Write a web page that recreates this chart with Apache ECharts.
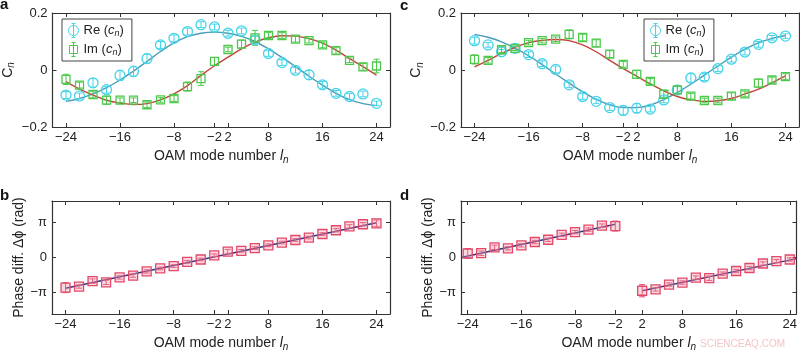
<!DOCTYPE html>
<html>
<head>
<meta charset="utf-8">
<script src="https://cdn.jsdelivr.net/npm/echarts@6/dist/echarts.min.js"></script>
<style>
  html, body { margin: 0; padding: 0; background: #fff; }
  #chart { width: 800px; height: 353px; }
</style>
</head>
<body>
<div id="chart"></div>
<script>
// ================* OAM modes (l = 0 is not used) *
const modes = [-24, -22, -20, -18, -16, -14, -12, -10, -8, -6, -4, -2,
               2, 4, 6, 8, 10, 12, 14, 16, 18, 20, 22, 24];
const modeTicks = [-24, -16, -8, -2, 2, 8, 16, 24];

// ---panel a
const reA    = [-0.088, -0.091, -0.045, -0.069, -0.019, -0.005, 0.040, 0.088, 0.111, 0.135, 0.159, 0.151,
                0.129, 0.137, 0.106, 0.058, 0.026, -0.001, -0.017, -0.052, -0.082, -0.093, -0.084, -0.117];
const reAErr = [0.012, 0.010, 0.015, 0.012, 0.018, 0.018, 0.016, 0.012, 0.012, 0.012, 0.010, 0.010,
                0.010, 0.010, 0.012, 0.010, 0.010, 0.010, 0.016, 0.012, 0.010, 0.010, 0.010, 0.008];
const imA    = [-0.033, -0.053, -0.086, -0.106, -0.106, -0.106, -0.122, -0.105, -0.100, -0.058, -0.030, 0.030,
                0.072, 0.091, 0.113, 0.121, 0.121, 0.108, 0.103, 0.088, 0.068, 0.034, 0.011, 0.014];
const imAErr = [0.018, 0.010, 0.012, 0.014, 0.008, 0.008, 0.010, 0.008, 0.010, 0.016, 0.024, 0.014,
                0.008, 0.014, 0.026, 0.010, 0.010, 0.010, 0.008, 0.010, 0.012, 0.008, 0.012, 0.024];
const reAFit = [-0.110, -0.100, -0.084, -0.062, -0.035, -0.004, 0.030, 0.065, 0.095, 0.117, 0.129, 0.133,
                0.129, 0.118, 0.100, 0.074, 0.044, 0.012, -0.022, -0.053, -0.082, -0.104, -0.118, -0.125];
const imAFit = [-0.041, -0.067, -0.088, -0.106, -0.116, -0.121, -0.118, -0.105, -0.084, -0.055, -0.019, 0.015,
                0.045, 0.074, 0.098, 0.113, 0.120, 0.119, 0.110, 0.094, 0.070, 0.040, 0.012, -0.018];

// ---panel c
const reC    = [0.103, 0.088, 0.064, 0.076, 0.054, 0.022, 0.002, -0.052, -0.093, -0.110, -0.132, -0.142,
                -0.134, -0.137, -0.105, -0.070, -0.028, -0.025, 0.005, 0.038, 0.063, 0.090, 0.113, 0.119];
const reCErr = [0.012, 0.008, 0.008, 0.008, 0.010, 0.010, 0.012, 0.010, 0.010, 0.008, 0.010, 0.016,
                0.016, 0.010, 0.010, 0.012, 0.016, 0.012, 0.010, 0.010, 0.010, 0.010, 0.008, 0.008];
const imC    = [0.037, 0.034, 0.071, 0.076, 0.096, 0.103, 0.108, 0.125, 0.114, 0.094, 0.056, 0.020,
                -0.015, -0.040, -0.085, -0.070, -0.092, -0.107, -0.107, -0.092, -0.084, -0.046, -0.035, -0.023];
const imCErr = [0.016, 0.010, 0.010, 0.008, 0.008, 0.008, 0.008, 0.016, 0.012, 0.012, 0.012, 0.010,
                0.014, 0.010, 0.014, 0.012, 0.010, 0.008, 0.008, 0.012, 0.010, 0.014, 0.010, 0.010];
const reCFit = [0.125, 0.115, 0.099, 0.077, 0.050, 0.019, -0.014, -0.046, -0.077, -0.103, -0.122, -0.132,
                -0.132, -0.123, -0.104, -0.079, -0.050, -0.018, 0.014, 0.045, 0.073, 0.095, 0.111, 0.121];
const imCFit = [0.011, 0.034, 0.058, 0.079, 0.096, 0.104, 0.107, 0.103, 0.088, 0.064, 0.034, 0.005,
                -0.022, -0.049, -0.073, -0.093, -0.105, -0.110, -0.108, -0.100, -0.084, -0.067, -0.045, -0.021];

// ---panel b (rad)
const phaseB    = [-2.72, -2.62, -2.13, -2.24, -1.80, -1.63, -1.26, -0.99, -0.77, -0.40, -0.18, 0.20,
                   0.53, 0.60, 0.85, 1.10, 1.35, 1.58, 1.80, 2.12, 2.46, 2.81, 3.00, 3.08];
const phaseBErr = [0.45, 0.15, 0.20, 0.20, 0.15, 0.15, 0.15, 0.12, 0.12, 0.12, 0.12, 0.12,
                   0.20, 0.12, 0.12, 0.12, 0.12, 0.12, 0.12, 0.12, 0.15, 0.15, 0.15, 0.30];
const phaseBFit = [-2.78, 3.14];   // at l = -24 and l = 24

// ---panel d (rad)
const phaseDNeg    = [0.36, 0.39, 0.92, 0.83, 1.10, 1.40, 1.60, 2.05, 2.29, 2.52, 2.88, 2.84];
const phaseDNegErr = [0.45, 0.20, 0.20, 0.15, 0.15, 0.15, 0.15, 0.15, 0.15, 0.15, 0.15, 0.45];
const phaseDPos    = [-3.00, -2.88, -2.44, -2.26, -1.81, -1.87, -1.46, -1.22, -0.95, -0.54, -0.33, -0.18];
const phaseDPosErr = [0.55, 0.15, 0.15, 0.15, 0.15, 0.20, 0.15, 0.15, 0.15, 0.15, 0.15, 0.15];
const dNegFitX = [-25, -2], dNegFit = [0.00, 3.00];
const dPosFitX = [2, 25],   dPosFit = [-3.00, -0.10];

const FONT = "'Liberation Sans', 'DejaVu Sans', sans-serif";
const AXIS = '#333';
const RE_PT = '#45d3e8', RE_LINE = '#4a9bb5';
const IM_PT = '#4cc94c', IM_LINE = '#c0443a';
const PH_PT = '#e2486a', PH_LINE = '#33307f';

const rich = {
    t: { fontSize: 14, fontFamily: FONT, color: '#222' },
    i: { fontSize: 14, fontFamily: FONT, fontStyle: 'italic', color: '#222' },
    s: { fontSize: 10, fontFamily: FONT, fontStyle: 'italic', color: '#222', padding: [7, 0, 0, 0] }
};
const legendRich = {
    t: { fontSize: 13, fontFamily: FONT, color: '#222' },
    i: { fontSize: 13, fontFamily: FONT, fontStyle: 'italic', color: '#222' },
    s: { fontSize: 9, fontFamily: FONT, fontStyle: 'italic', color: '#222', padding: [6, 0, 0, 0] }
};

function minus(v) {
    return String(v).replace('-', '\u2212');
}

// index based axis for a, b, c (the gap between -2 and 2 is one step)
const idx = modes.map(function (m, i) { return i; });
const idxTicks = modeTicks.map(function (m) { return modes.indexOf(m); });

function xPair(grid, min, max, ticks, fmt) {
    const base = {
        gridIndex: grid, type: 'value', min: min, max: max,
        splitLine: { show: false },
        axisLine: { onZero: false, lineStyle: { color: AXIS, width: 1.2 } },
        axisTick: { inside: true, length: 4, customValues: ticks, lineStyle: { color: AXIS, width: 1 } }
    };
    return [
        Object.assign({}, base, {
            position: 'bottom',
            axisLabel: { customValues: ticks, formatter: fmt, margin: 4, color: '#222', fontSize: 13, fontFamily: FONT },
            name: '{t|OAM mode number }{i|l}{s|n}', nameLocation: 'middle', nameGap: 21,
            nameTextStyle: { rich: rich }
        }),
        Object.assign({}, base, { position: 'top', axisLabel: { show: false } })
    ];
}

function yPair(grid, min, max, ticks, fmt, name, gap) {
    const base = {
        gridIndex: grid, type: 'value', min: min, max: max,
        splitLine: { show: false },
        axisLine: { onZero: false, lineStyle: { color: AXIS, width: 1.2 } },
        axisTick: { inside: true, length: 4, customValues: ticks, lineStyle: { color: AXIS, width: 1 } }
    };
    return [
        Object.assign({}, base, {
            position: 'left',
            axisLabel: { customValues: ticks, formatter: fmt, margin: 5, color: '#222', fontSize: 13, fontFamily: FONT },
            name: name, nameLocation: 'middle', nameGap: gap,
            nameTextStyle: { rich: rich }
        }),
        Object.assign({}, base, { position: 'right', axisLabel: { show: false } })
    ];
}

const idxFmt = function (v) { return minus(modes[v]); };
const lFmt = function (v) { return minus(v); };
const cFmt = function (v) { return v === 0 ? '0' : minus(v); };
const piFmt = function (v) { return v > 0 ? '\u03c0' : (v < 0 ? '\u2212\u03c0' : '0'); };
const cTicks = [-0.2, 0, 0.2];
const piTicks = [-Math.PI, 0, Math.PI];

function errorBars(color) {
    return function (params, api) {
        const x = api.value(0), y = api.value(1), e = api.value(2);
        const hi = api.coord([x, y + e]);
        const lo = api.coord([x, y - e]);
        const st = { stroke: color, lineWidth: 1 };
        return {
            type: 'group', children: [
                { type: 'line', shape: { x1: hi[0], y1: hi[1], x2: lo[0], y2: lo[1] }, style: st },
                { type: 'line', shape: { x1: hi[0] - 3, y1: hi[1], x2: hi[0] + 3, y2: hi[1] }, style: st },
                { type: 'line', shape: { x1: lo[0] - 3, y1: lo[1], x2: lo[0] + 3, y2: lo[1] }, style: st }
            ]
        };
    };
}

function zip(xs, ys, es) {
    return xs.map(function (x, i) { return es ? [x, ys[i], es[i]] : [x, ys[i]]; });
}

// markers: error bars + hollow symbols
function points(name, grid, xs, ys, es, color, symbol, size, fill) {
    return [{
        type: 'custom', xAxisIndex: 2 * grid, yAxisIndex: 2 * grid, z: 3,
        renderItem: errorBars(color), data: zip(xs, ys, es), encode: { x: 0, y: 1 }
    }, {
        name: name, type: 'scatter', xAxisIndex: 2 * grid, yAxisIndex: 2 * grid, z: 4,
        symbol: symbol, symbolSize: size, data: zip(xs, ys),
        itemStyle: { color: fill || 'rgba(255,255,255,0)', borderColor: color, borderWidth: 1.3, opacity: 1 }
    }];
}

function fit(grid, xs, ys, color) {
    return {
        type: 'line', xAxisIndex: 2 * grid, yAxisIndex: 2 * grid, z: 2,
        data: zip(xs, ys), smooth: 0.4, showSymbol: false, symbol: 'none',
        lineStyle: { color: color, width: 1.4 }
    };
}

const circleIcon = 'path://M0,7A5,5,0,1,1,10,7A5,5,0,1,1,0,7ZM5,0L5,14M3,0L7,0M3,14L7,14';
const squareIcon = 'path://M1,3L9,3L9,11L1,11ZM5,0L5,14M3,0L7,0M3,14L7,14';

function legend(left, names) {
    const st = function (c) {
        return { color: 'rgba(255,255,255,0)', borderColor: c, borderWidth: 1 };
    };
    return {
        left: left, top: 19, orient: 'vertical', selectedMode: false,
        borderColor: '#444', borderWidth: 1, padding: [4, 8, 4, 6],
        itemGap: 4, itemWidth: 10, itemHeight: 14,
        data: [
            { name: names[0], icon: circleIcon, itemStyle: st(RE_PT) },
            { name: names[1], icon: squareIcon, itemStyle: st(IM_PT) }
        ],
        formatter: function (n) {
            return (n.indexOf('re') === 0 ? '{t|Re (}' : '{t|Im (}') + '{i|c}{s|n}{t|)}';
        },
        textStyle: { rich: legendRich }
    };
}

function letter(ch, x, y) {
    return { type: 'text', left: x, top: y, style: { text: ch, font: 'bold 15px ' + FONT, fill: '#111' } };
}

const dNegX = modes.slice(0, 12), dPosX = modes.slice(12);

const chart = echarts.init(document.getElementById('chart'));
const option = {
    animation: false,
    backgroundColor: '#fff',
    grid: [
        { left: 52, top: 13, width: 338, height: 114 },
        { left: 52, top: 201, width: 338, height: 114 },
        { left: 461, top: 13, width: 338, height: 114 },
        { left: 461, top: 201, width: 337, height: 114 }
    ],
    xAxis: [].concat(
        xPair(0, -1, 24, idxTicks, idxFmt),
        xPair(1, -1, 24, idxTicks, idxFmt),
        xPair(2, -1, 24, idxTicks, idxFmt),
        xPair(3, -25, 25, modeTicks, lFmt)
    ),
    yAxis: [].concat(
        yPair(0, -0.2, 0.2, cTicks, cFmt, '{t|C}{s|n}', 36),
        yPair(1, -5.1, 5.1, piTicks, piFmt, '{t|Phase diff. \u0394\u03d5 (rad)}', 20),
        yPair(2, -0.2, 0.2, cTicks, cFmt, '{t|C}{s|n}', 36),
        yPair(3, -5.1, 5.1, piTicks, piFmt, '{t|Phase diff. \u0394\u03d5 (rad)}', 20)
    ),
    legend: [legend(62, ['reA', 'imA']), legend(644, ['reC', 'imC'])],
    graphic: [
        letter('a', 0, -3), letter('b', 0, 188),
        letter('c', 400, -2), letter('d', 400, 188),
        { type: 'text', left: 700, top: 339, style: { text: 'SCIENCEAQ.COM', font: '10px ' + FONT, fill: '#f2c4c8' } }
    ],
    series: [].concat(
        fit(0, idx, reAFit, RE_LINE), fit(0, idx, imAFit, IM_LINE),
        points('reA', 0, idx, reA, reAErr, RE_PT, 'circle', 10),
        points('imA', 0, idx, imA, imAErr, IM_PT, 'rect', 8),

        fit(1, [idx[0], idx[idx.length - 1]], phaseBFit, PH_LINE),
        points('phB', 1, idx, phaseB, phaseBErr, PH_PT, 'rect', 9, 'rgba(240,150,165,0.35)'),

        fit(2, idx, reCFit, RE_LINE), fit(2, idx, imCFit, IM_LINE),
        points('reC', 2, idx, reC, reCErr, RE_PT, 'circle', 10),
        points('imC', 2, idx, imC, imCErr, IM_PT, 'rect', 8),

        fit(3, dNegFitX, dNegFit, PH_LINE), fit(3, dPosFitX, dPosFit, PH_LINE),
        points('phDn', 3, dNegX, phaseDNeg, phaseDNegErr, PH_PT, 'rect', 9, 'rgba(240,150,165,0.35)'),
        points('phDp', 3, dPosX, phaseDPos, phaseDPosErr, PH_PT, 'rect', 9, 'rgba(240,150,165,0.35)')
    )
};
chart.setOption(option);
</script>
</body>
</html>
